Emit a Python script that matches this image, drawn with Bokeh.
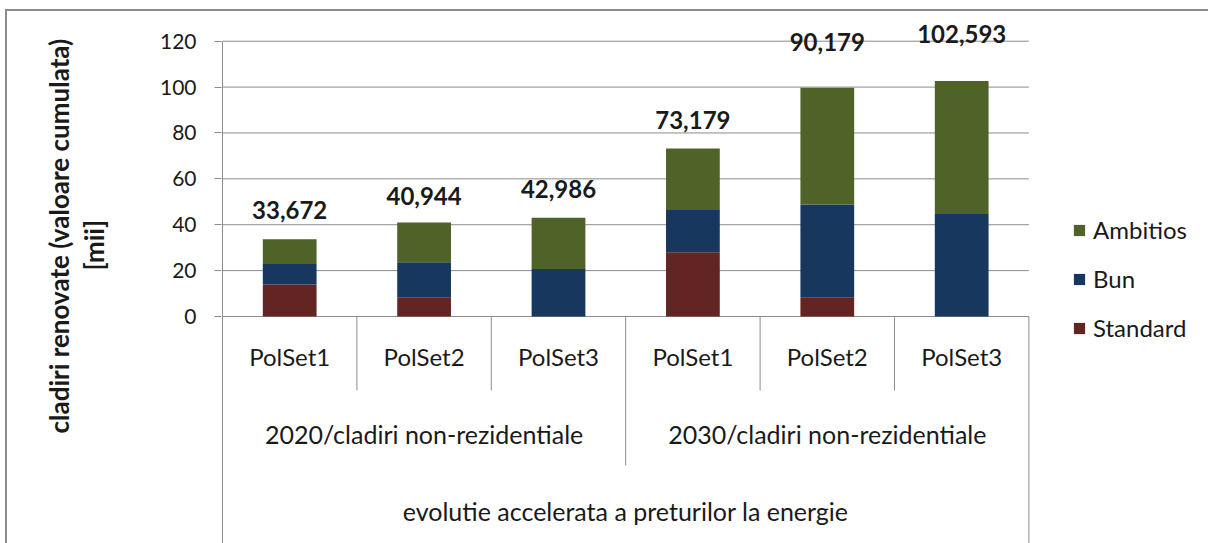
from bokeh.plotting import figure
from bokeh.models import (Range1d, ColumnDataSource, LabelSet, Legend,
                          LegendItem, FixedTicker, Title)
from bokeh.core.properties import value
from bokeh.embed import file_html
from bokeh.resources import INLINE

# ---------------- data ----------------
scenario = "evolutie accelerata a preturilor la energie"
groups = ["2020/cladiri non-rezidentiale", "2030/cladiri non-rezidentiale"]
polsets = ["PolSet1", "PolSet2", "PolSet3"]
series = ["Standard", "Bun", "Ambitios"]
standard = [13.9, 8.4, 0.0, 28.0, 8.4, 0.0]
bun = [9.0, 15.2, 20.7, 18.4, 40.4, 44.7]
ambitios = [10.77, 17.34, 22.29, 26.78, 50.9, 57.9]
total_labels = ["33,672", "40,944", "42,986", "73,179", "90,179", "102,593"]
y_ticks = [0, 20, 40, 60, 80, 100, 120]
y_title = "cladiri renovate (valoare cumulata)"
y_unit = "[mii]"

# ---------------- style / layout ----------------
colors = ["#632523", "#17375E", "#4F6228"]
label_lift_px = [29, 27, 29, 29, 46, 47]
grid_col = "#8c8c8c"
txt_col = "#1a1a1a"
FONT = "Lato"

W, H = 1208, 543
frame_left, frame_top = 221, 16
axis_x_px = 222            # where category 0 starts
cat_px = 134.4             # width of one category
base_px = 316              # pixel row of value 0
px_per_unit = 275.3 / 120.0

x_start = -(axis_x_px - frame_left) / cat_px
x_end = x_start + (W - frame_left) / cat_px
y_top = 120 + (base_px - 275.3 - frame_top) / px_per_unit
y_bottom = y_top - (H - frame_top) / px_per_unit


def below(px):
    """distance (pixels) below the value-axis baseline, as a data value"""
    return -px / px_per_unit


n = len(groups) * len(polsets)
xpos = [i + 0.5 for i in range(n)]            # category slots on the scale
cat_names = [ps for g in groups for ps in polsets]
group_pos = [sum(xpos[k * len(polsets):(k + 1) * len(polsets)]) / len(polsets)
             for k in range(len(groups))]
totals = [s + b + a for s, b, a in zip(standard, bun, ambitios)]

source = ColumnDataSource(data=dict(
    x=xpos, Standard=standard, Bun=bun, Ambitios=ambitios,
    total=totals, label=total_labels, lift=label_lift_px))

p = figure(width=W, height=H, x_range=Range1d(x_start, x_end),
           y_range=Range1d(y_bottom, y_top),
           output_backend="svg", toolbar_location=None, x_axis_location=None,
           min_border_left=frame_left, min_border_right=0,
           min_border_top=frame_top, min_border_bottom=0,
           background_fill_color="white", border_fill_color=None,
           outline_line_color=None)
p.styles = {"background": "linear-gradient(#8c8c8c, #8c8c8c) 5px 9px / 2px 100% no-repeat, "
                          "linear-gradient(#8c8c8c, #8c8c8c) 5px 9px / 100% 2px no-repeat, #ffffff"}

# y axis
ya = p.yaxis[0]
ya.ticker = FixedTicker(ticks=y_ticks)
ya.minor_tick_line_color = None
ya.major_tick_in = 0
ya.major_tick_out = 7
ya.major_tick_line_color = grid_col
ya.axis_line_color = None
ya.major_label_text_font = FONT
ya.major_label_text_font_size = "21px"
ya.major_label_text_color = txt_col
ya.major_label_standoff = 18
p.xgrid.grid_line_color = None
p.ygrid.grid_line_color = None

# horizontal gridlines across the plot area
p.segment(x0=[0] * len(y_ticks), y0=y_ticks, x1=[n] * len(y_ticks), y1=y_ticks,
          line_color=grid_col, line_width=1)
# value axis line
p.segment(x0=[0], y0=[0], x1=[0], y1=[max(y_ticks)], line_color=grid_col, line_width=1)

rs = p.vbar_stack(series, x="x", width=0.4, color=colors, source=source,
                  line_color=None)

# category separators
sx, sy0, sy1 = [], [], []
for i in range(n + 1):
    if i == 0 or i == n:
        depth = 230
    elif i % len(polsets) == 0:
        depth = 149
    else:
        depth = 74
    sx.append(i)
    sy0.append(0)
    sy1.append(below(depth))
p.segment(x0=sx, y0=sy0, x1=sx, y1=sy1, line_color=grid_col, line_width=1)

# category labels (three levels)
p.text(x=xpos, y=[below(40)] * n, text=cat_names,
       text_align="center", text_baseline="middle", text_font=value(FONT),
       text_font_size="24px", text_color=txt_col)
p.text(x=group_pos, y=[below(117)] * len(groups), text=groups,
       text_align="center", text_baseline="middle", text_font=value(FONT),
       text_font_size="25px", text_color=txt_col)
p.text(x=[sum(xpos) / n], y=[below(194)], text=[scenario],
       text_align="center", text_baseline="middle", text_font=value(FONT),
       text_font_size="25px", text_color=txt_col)

# totals
p.add_layout(LabelSet(x="x", y="total", text="label", y_offset="lift",
                      source=source, text_align="center",
                      text_baseline="middle", text_font=value(FONT),
                      text_font_style="bold", text_font_size="24px",
                      text_color=txt_col))

# y axis title (two lines)
p.add_layout(Title(text=y_unit, align="left", offset=H - 270, standoff=0,
                   padding=dict(left=0, right=0, top=0, bottom=47),
                   text_font=FONT, text_font_style="bold", text_font_size="26px",
                   text_color=txt_col), "left")
p.add_layout(Title(text=y_title, align="left", offset=H - 433, standoff=0,
                   padding=dict(left=0, right=0, top=0, bottom=48),
                   text_font=FONT, text_font_style="bold", text_font_size="26px",
                   text_color=txt_col), "left")

# legend
legend = Legend(items=[LegendItem(label=series[k], renderers=[rs[k]]) for k in (2, 1, 0)],
                location=(851, 201), orientation="vertical",
                border_line_color=None, background_fill_alpha=0,
                padding=0, margin=0, spacing=20, glyph_width=14, glyph_height=14,
                label_height=28, label_standoff=7, label_text_font=FONT,
                label_text_font_size="24px", label_text_color=txt_col)
p.add_layout(legend, "center")

open("out.html", "w").write(file_html(p, INLINE))
